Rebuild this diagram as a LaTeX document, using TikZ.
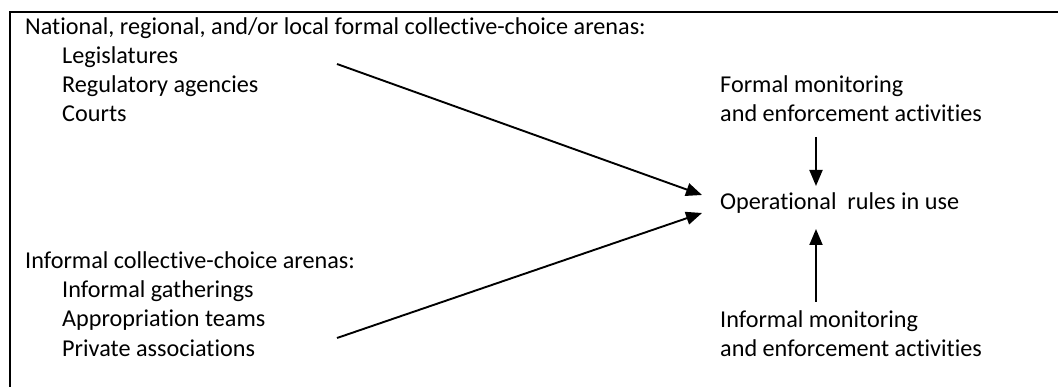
\documentclass[tikz,border=0pt]{standalone}
\usepackage{fontspec}
\setmainfont[Ligatures=NoCommon]{Carlito}
\usetikzlibrary{arrows.meta}
\begin{document}
\begin{tikzpicture}[x=1pt,y=-1pt,
  lbl/.style={anchor=base west,inner sep=0pt,font=\fontsize{24.2}{29}\selectfont},
  arr/.style={line width=1.9pt,-{Triangle[length=16pt,width=13pt]}},
  frame/.style={line width=1.8pt}]
\useasboundingbox (0,0) rectangle (1058,387);
\draw[frame] (1060,12) -- (10,12) -- (10,389);
\node[lbl] (nat) at (25,35) {National, regional, and/or local formal collective-choice arenas:};
\node[lbl] (leg) at (62,64) {Legislatures};
\node[lbl] (reg) at (62,93) {Regulatory agencies};
\node[lbl] (cou) at (62,122) {Courts};
\node[lbl] (inf) at (25,269) {Informal collective-choice arenas:};
\node[lbl] (gat) at (62,298) {Informal gatherings};
\node[lbl] (app) at (62,327) {Appropriation teams};
\node[lbl] (pri) at (62,357) {Private associations};
\node[lbl] (fm1) at (720,93) {Formal monitoring};
\node[lbl] (fm2) at (720,122) {and enforcement activities};
\node[lbl] (op) at (720,210) {Operational\ \ rules in use};
\node[lbl] (im1) at (720,328) {Informal monitoring};
\node[lbl] (im2) at (720,357) {and enforcement activities};
\coordinate (a1s) at (337,64);
\coordinate (a1e) at (702,195);
\coordinate (a2s) at (337,338);
\coordinate (a2e) at (702,213);
\coordinate (dns) at (816,137);
\coordinate (dne) at (816,186);
\coordinate (ups) at (816,302);
\coordinate (upe) at (816,229);
\draw[arr] (a1s) -- (a1e);
\draw[arr] (a2s) -- (a2e);
\draw[arr] (dns) -- (dne);
\draw[arr] (ups) -- (upe);
\end{tikzpicture}
\end{document}
